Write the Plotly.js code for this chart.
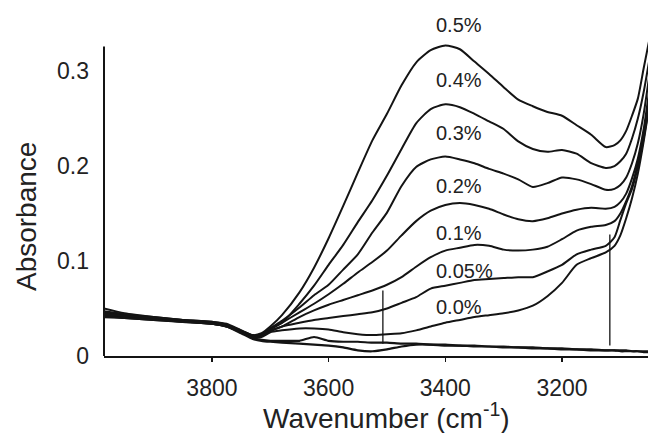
<!DOCTYPE html>
<html>
<head>
<meta charset="utf-8">
<script src="https://cdn.plot.ly/plotly-3.0.1.min.js"></script>
<style>html,body{margin:0;padding:0;background:#fff}#chart{width:648px;height:433px}</style>
</head>
<body>
<div id="chart"></div>
<script>
// Wavenumber grid (cm-1)
const wavenumber = [3985, 3950, 3900, 3850, 3800, 3775, 3750, 3730, 3715, 3700,
  3680, 3650, 3625, 3600, 3575, 3550, 3525, 3500, 3475, 3450,
  3425, 3400, 3375, 3350, 3325, 3300, 3275, 3250, 3225, 3200,
  3175, 3150, 3125, 3110, 3100, 3090, 3080, 3070, 3060, 3050];

const seriesLabels = ["0.5%", "0.4%", "0.3%", "0.2%", "0.1%", "0.05%", "0.0%"];

const abs_05 = [0.050, 0.045, 0.041, 0.038, 0.036, 0.033, 0.027, 0.022, 0.024,
  0.031, 0.043, 0.067, 0.093, 0.124, 0.158, 0.193, 0.227, 0.255, 0.285, 0.309,
  0.322, 0.327, 0.323, 0.310, 0.297, 0.283, 0.270, 0.263, 0.257, 0.253,
  0.243, 0.233, 0.220, 0.222, 0.227, 0.237, 0.253, 0.271, 0.303, 0.334];
const abs_04 = [0.046, 0.043, 0.040, 0.038, 0.035, 0.033, 0.026, 0.021, 0.023,
  0.029, 0.035, 0.055, 0.074, 0.096, 0.117, 0.141, 0.164, 0.190, 0.218, 0.245,
  0.260, 0.265, 0.262, 0.255, 0.247, 0.239, 0.226, 0.218, 0.215, 0.217,
  0.213, 0.203, 0.198, 0.200, 0.205, 0.213, 0.229, 0.250, 0.278, 0.313];
const abs_03 = [0.044, 0.042, 0.040, 0.037, 0.035, 0.032, 0.026, 0.021, 0.022,
  0.029, 0.037, 0.051, 0.064, 0.075, 0.091, 0.107, 0.130, 0.151, 0.179, 0.199,
  0.207, 0.210, 0.207, 0.203, 0.197, 0.192, 0.186, 0.178, 0.182, 0.188,
  0.186, 0.181, 0.175, 0.176, 0.180, 0.188, 0.203, 0.224, 0.255, 0.297];
const abs_02 = [0.047, 0.044, 0.041, 0.038, 0.036, 0.034, 0.027, 0.022, 0.023,
  0.028, 0.035, 0.046, 0.055, 0.065, 0.076, 0.088, 0.099, 0.111, 0.127, 0.142,
  0.153, 0.159, 0.161, 0.159, 0.155, 0.149, 0.144, 0.142, 0.145, 0.150,
  0.154, 0.156, 0.155, 0.157, 0.162, 0.171, 0.187, 0.208, 0.239, 0.282];
const abs_01 = [0.043, 0.041, 0.039, 0.037, 0.034, 0.032, 0.026, 0.021, 0.022,
  0.027, 0.031, 0.041, 0.048, 0.054, 0.059, 0.064, 0.069, 0.075, 0.083, 0.094,
  0.104, 0.111, 0.114, 0.117, 0.116, 0.112, 0.111, 0.112, 0.115, 0.123,
  0.132, 0.136, 0.138, 0.142, 0.150, 0.163, 0.179, 0.203, 0.234, 0.274];
const abs_005 = [0.042, 0.040, 0.038, 0.036, 0.034, 0.031, 0.025, 0.020, 0.021,
  0.026, 0.031, 0.035, 0.038, 0.040, 0.042, 0.044, 0.046, 0.050, 0.056, 0.062,
  0.071, 0.074, 0.077, 0.080, 0.081, 0.082, 0.083, 0.083, 0.089, 0.096,
  0.107, 0.112, 0.116, 0.125, 0.143, 0.161, 0.176, 0.199, 0.229, 0.267];
const abs_00 = [0.045, 0.042, 0.039, 0.036, 0.034, 0.031, 0.025, 0.020, 0.020,
  0.025, 0.027, 0.029, 0.029, 0.028, 0.025, 0.023, 0.022, 0.023, 0.024, 0.027,
  0.031, 0.035, 0.038, 0.041, 0.043, 0.045, 0.048, 0.053, 0.063, 0.077,
  0.096, 0.103, 0.109, 0.116, 0.127, 0.145, 0.166, 0.192, 0.226, 0.265];
// baseline spectra near zero
const base_a = [0.044, 0.042, 0.040, 0.037, 0.035, 0.032, 0.025, 0.019, 0.017,
  0.016, 0.016, 0.016, 0.020, 0.016, 0.015, 0.015, 0.014, 0.014, 0.013, 0.013,
  0.012, 0.012, 0.011, 0.011, 0.010, 0.010, 0.009, 0.009, 0.008, 0.008,
  0.007, 0.007, 0.006, 0.006, 0.006, 0.006, 0.005, 0.005, 0.005, 0.005];
const base_b = [0.041, 0.040, 0.038, 0.036, 0.034, 0.031, 0.024, 0.018, 0.016,
  0.015, 0.014, 0.013, 0.012, 0.011, 0.009, 0.006, 0.005, 0.007, 0.010, 0.012,
  0.012, 0.011, 0.011, 0.010, 0.010, 0.009, 0.009, 0.008, 0.008, 0.007,
  0.007, 0.006, 0.006, 0.006, 0.005, 0.005, 0.005, 0.005, 0.004, 0.004];

// vertical baseline markers
const marker1_x = [3507, 3507];
const marker1_y = [0.013, 0.069];
const marker2_x = [3118, 3118];
const marker2_y = [0.011, 0.128];

// label positions for curve names (absorbance units)
const labelX = 3420;
const labelY = [0.349, 0.291, 0.235, 0.179, 0.129, 0.090, 0.052];

const xTicks = [3800, 3600, 3400, 3200];
const yTicks = [0, 0.1, 0.2, 0.3];
const yTickText = ["0", "0.1", "0.2", "0.3"];
const yMax = 0.338;

const series = [abs_05, abs_04, abs_03, abs_02, abs_01, abs_005, abs_00];
const ink = "#141414";
const font = "Liberation Sans, Arial, Helvetica, sans-serif";

const traces = series.map((ys, i) => ({
  x: wavenumber, y: ys, type: "scatter", mode: "lines", name: seriesLabels[i],
  line: {color: ink, width: 2, shape: "spline", smoothing: 0.6}, hoverinfo: "skip"
}));
[base_a, base_b].forEach(b => traces.push({
  x: wavenumber, y: b, type: "scatter", mode: "lines",
  line: {color: ink, width: 2.2, shape: "spline", smoothing: 0.6}, hoverinfo: "skip"
}));
traces.push({x: marker1_x, y: marker1_y, type: "scatter", mode: "lines", line: {color: ink, width: 1.3}});
traces.push({x: marker2_x, y: marker2_y, type: "scatter", mode: "lines", line: {color: ink, width: 1.3}});

const annotations = seriesLabels.map((t, i) => ({
  text: t, x: labelX, y: labelY[i] / yMax, xref: "x", yref: "paper",
  xanchor: "left", yanchor: "middle", showarrow: false,
  font: {family: font, size: 20, color: "#222"}
}));
annotations.push({
  text: "Absorbance", xref: "paper", yref: "paper", x: -0.1434, y: 0.436,
  textangle: -90, showarrow: false, xanchor: "center", yanchor: "middle",
  font: {family: font, size: 28, color: "#222"}
});
annotations.push({
  text: "Wavenumber (cm<sup>-1</sup>)", xref: "paper", yref: "paper", x: 0.52, y: -0.186,
  showarrow: false, xanchor: "center", yanchor: "middle",
  font: {family: font, size: 28, color: "#222"}
});

const layout = {
  width: 648, height: 433,
  margin: {l: 104, r: 0, t: 35, b: 77, pad: 0},
  paper_bgcolor: "#fff", plot_bgcolor: "rgba(0,0,0,0)",
  showlegend: false,
  xaxis: {
    range: [3985, 3052.6], tickvals: xTicks, ticks: "outside", ticklen: 4, tickwidth: 1.5,
    tickcolor: ink, showline: true, linewidth: 2, linecolor: ink, showgrid: false,
    zeroline: false, ticklabelstandoff: 6,
    tickfont: {family: font, size: 23, color: "#222"}
  },
  yaxis: {
    range: [0, yMax], tickvals: yTicks, ticktext: yTickText, ticks: "",
    showline: false, showgrid: false, zeroline: false, ticklabelstandoff: 14,
    tickfont: {family: font, size: 23, color: "#222"}
  },
  shapes: [{type: "line", xref: "paper", yref: "y", x0: 0, x1: 0, y0: 0, y1: 0.326,
    line: {color: ink, width: 2}}],
  annotations: annotations
};

Plotly.newPlot("chart", traces, layout, {staticPlot: true, displayModeBar: false});
</script>
</body>
</html>
